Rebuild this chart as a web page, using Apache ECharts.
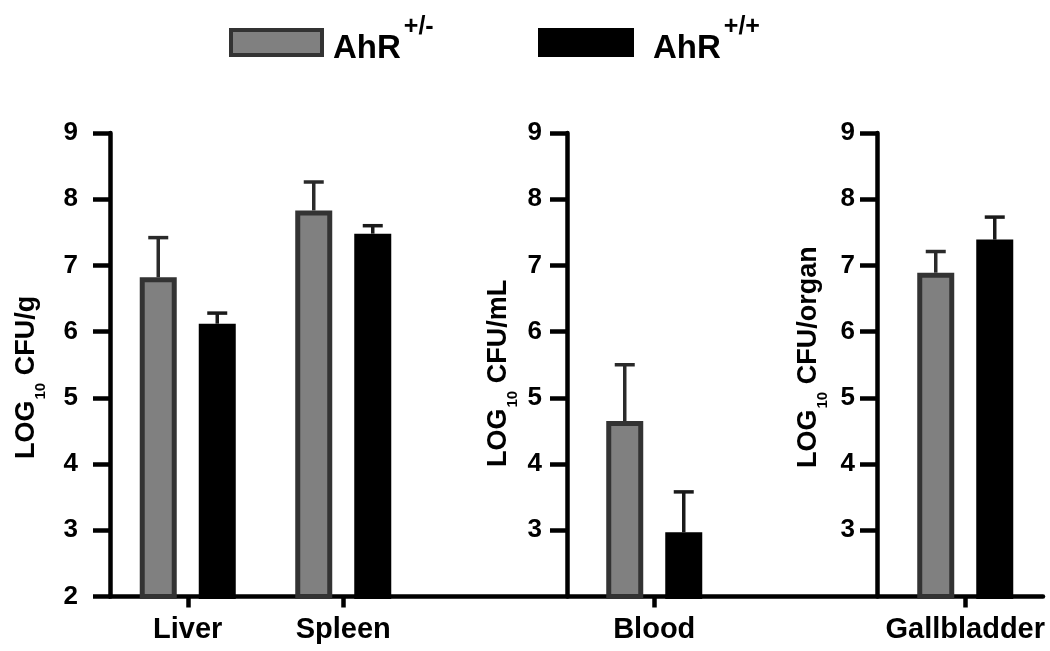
<!DOCTYPE html>
<html>
<head>
<meta charset="utf-8">
<script src="https://cdn.jsdelivr.net/npm/echarts@6/dist/echarts.min.js"></script>
<style>
  html, body { margin: 0; padding: 0; background: #fff; }
  #chart { width: 1050px; height: 651px; }
</style>
</head>
<body>
<div id="chart"></div>
<script>
// ---- data ----
const categories = ['Liver', 'Spleen', '', 'Blood', '', 'Gallbladder'];
const seriesNames = ['AhR+/-', 'AhR+/+'];
const legendSups = ['+/-', '+/+'];
const hetMean = [6.82, 7.83, null, 4.65, null, 6.89];   // AhR+/-
const hetSem  = [0.60, 0.43, null, 0.85, null, 0.32];
const wtMean  = [6.12, 7.48, null, 2.97, null, 7.39];   // AhR+/+
const wtSem   = [0.16, 0.12, null, 0.61, null, 0.34];
const yMin = 2, yMax = 9, yStep = 1;
const yUnits = ['CFU/g', 'CFU/mL', 'CFU/organ'];

// ---- styles ----
const FONT = 'Liberation Sans, Arial, Helvetica, sans-serif';
const GRID_TOP = 133, GRID_BOTTOM = 54.5;
const BAR_W = 37, BAR_BORDER = 5, BAR_GAP = '59.5%';
const HALF_SPACING = 29.5;
const GRAY = '#808080', DARK = '#333333';

function errData(mean, sem) {
  const out = [];
  mean.forEach((m, i) => { if (m != null) out.push([i, m, m + sem[i]]); });
  return out;
}

function errRender(sign, color) {
  return function (params, api) {
    const i = api.value(0);
    const p0 = api.coord([i, api.value(1)]);
    const p1 = api.coord([i, api.value(2)]);
    const x = p0[0] + sign * HALF_SPACING;
    const capHalf = 10;
    return {
      type: 'group',
      children: [
        { type: 'line', shape: { x1: x, y1: p0[1], x2: x, y2: p1[1] },
          style: { stroke: color, lineWidth: 3.5 } },
        { type: 'line', shape: { x1: x - capHalf, y1: p1[1], x2: x + capHalf, y2: p1[1] },
          style: { stroke: color, lineWidth: 3.5 } }
      ]
    };
  };
}

function yAxisCfg(gridIndex, margin, showMin) {
  return {
    type: 'value', gridIndex: gridIndex, min: yMin, max: yMax, interval: yStep,
    axisLine: { show: true, lineStyle: { color: '#000', width: 4.5 } },
    axisTick: { show: true, length: 17, lineStyle: { color: '#000', width: 4.5 } },
    axisLabel: { show: true, margin: margin, showMinLabel: showMin, color: '#000',
      fontFamily: FONT, fontWeight: 'bold', fontSize: 26 },
    splitLine: { show: false }
  };
}

function titleText(x, y, unit) {
  return {
    type: 'text', x: x, y: y, rotation: Math.PI / 2,
    style: {
      text: '{m|LOG}{s|10}{m| ' + unit + '}',
      align: 'left', verticalAlign: 'middle',
      textAlign: 'left', textVerticalAlign: 'middle',
      fill: '#000',
      rich: {
        m: { fontFamily: FONT, fontWeight: 'bold', fontSize: 27, fill: '#000', color: '#000', verticalAlign: 'top' },
        s: { fontFamily: FONT, fontWeight: 'bold', fontSize: 15, fill: '#000', color: '#000', verticalAlign: 'bottom', padding: [20, 0, 0, 1] }
      }
    }
  };
}

function legendCfg(idx, left, iconW, iconH, padLeft) {
  return {
    show: true, left: left, top: 14.5, padding: 0,
    icon: 'rect', itemWidth: iconW, itemHeight: iconH,
    selectedMode: false,
    data: [idx === 0
      ? { name: seriesNames[0], itemStyle: { color: GRAY, borderColor: DARK, borderWidth: 4 } }
      : { name: seriesNames[1], itemStyle: { color: '#000', borderWidth: 0 } }],
    formatter: function () { return '{b|AhR}{s|' + legendSups[idx] + '}'; },
    textStyle: {
      color: '#000',
      rich: {
        b: { fontFamily: FONT, fontWeight: 'bold', fontSize: 33, color: '#000', padding: [13, 0, 0, padLeft] },
        s: { fontFamily: FONT, fontWeight: 'bold', fontSize: 25, color: '#000', padding: [0, 0, 31, 3] }
      }
    }
  };
}

const chart = echarts.init(document.getElementById('chart'), null, { renderer: 'canvas' });

chart.setOption({
  animation: false,
  backgroundColor: '#fff',
  legend: [
    legendCfg(0, 229, 91, 25, 6),
    legendCfg(1, 538, 96, 29, 14)
  ],
  grid: [
    { left: 110, right: 7, top: GRID_TOP, bottom: GRID_BOTTOM },
    { left: 567, width: 1, top: GRID_TOP, bottom: GRID_BOTTOM },
    { left: 877, width: 1, top: GRID_TOP, bottom: GRID_BOTTOM }
  ],
  xAxis: [
    {
      type: 'category', gridIndex: 0, data: categories,
      axisLine: { show: true, lineStyle: { color: '#000', width: 4.5 } },
      axisTick: { show: true, alignWithLabel: true, length: 11,
        interval: function (i, v) { return v !== ''; },
        lineStyle: { color: '#000', width: 4.5 } },
      axisLabel: { interval: 0, margin: 19, color: '#000', fontFamily: FONT, fontWeight: 'bold', fontSize: 29 },
      splitLine: { show: false }
    },
    { type: 'value', gridIndex: 1, show: false },
    { type: 'value', gridIndex: 2, show: false }
  ],
  yAxis: [
    yAxisCfg(0, 32, true),
    yAxisCfg(1, 25, false),
    yAxisCfg(2, 22, false)
  ],
  series: [
    {
      name: seriesNames[0], type: 'bar', xAxisIndex: 0, yAxisIndex: 0,
      data: hetMean, barWidth: BAR_W, barGap: BAR_GAP, clip: true,
      itemStyle: { color: GRAY, borderColor: DARK, borderWidth: BAR_BORDER },
      z: 2
    },
    {
      name: seriesNames[1], type: 'bar', xAxisIndex: 0, yAxisIndex: 0,
      data: wtMean, barWidth: BAR_W, barGap: BAR_GAP, clip: true,
      itemStyle: { color: '#000', borderColor: '#000', borderWidth: BAR_BORDER },
      z: 2
    },
    {
      type: 'custom', xAxisIndex: 0, yAxisIndex: 0,
      data: errData(hetMean, hetSem), encode: { x: 0, y: [1, 2] },
      renderItem: errRender(-1, '#2a2a2a'), z: 1
    },
    {
      type: 'custom', xAxisIndex: 0, yAxisIndex: 0,
      data: errData(wtMean, wtSem), encode: { x: 0, y: [1, 2] },
      renderItem: errRender(1, '#1a1a1a'), z: 1
    }
  ],
  graphic: [
    titleText(31, 459, yUnits[0]),
    titleText(503, 467, yUnits[1]),
    titleText(813, 468, yUnits[2])
  ]
});
</script>
</body>
</html>
